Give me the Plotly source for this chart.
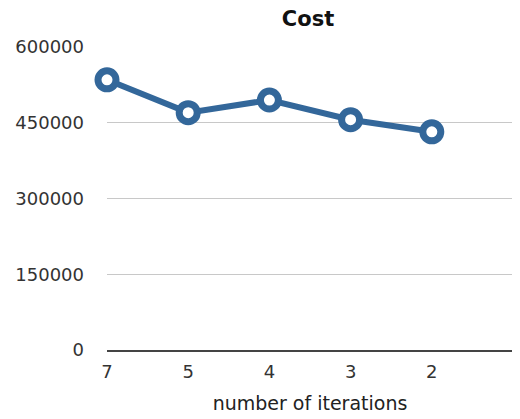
import plotly.graph_objects as go

categories = ["7", "5", "4", "3", "2"]
cost = [535000, 470000, 495000, 456000, 432000]
y_ticks = [0, 150000, 300000, 450000, 600000]

FONT = "DejaVu Sans, Liberation Sans, Arial, sans-serif"
BLUE = "#33679a"

fig = go.Figure()
fig.add_trace(go.Scatter(
    x=list(range(len(categories))), y=cost, mode="lines+markers",
    line=dict(color=BLUE, width=6),
    marker=dict(size=18, color="white", line=dict(color=BLUE, width=7)),
    cliponaxis=False, showlegend=False,
))
# page body has an 8px margin, so the figure spans 8..520 x 8..419
fig.update_layout(
    width=512, height=411,
    margin=dict(l=97, r=7, t=39, b=69),
    paper_bgcolor="white", plot_bgcolor="white",
    font=dict(family=FONT, size=18, color="#333333"),
    title=dict(text="<b>Cost</b>", x=300/512, xanchor="center", y=1-11/411, yanchor="middle",
               font=dict(family=FONT, size=21, color="#111111")),
    xaxis=dict(
        range=[0, 5], tickmode="array", tickvals=list(range(len(categories))),
        ticktext=categories, showgrid=False, zeroline=False,
        showline=True, linecolor="#444444", linewidth=2,
        ticks="", ticklabelstandoff=4,
        title=dict(text="number of iterations", standoff=16, font=dict(family=FONT, size=19, color="#222222")),
    ),
    yaxis=dict(
        range=[0, 600000], tickvals=y_ticks, ticktext=[str(v) for v in y_ticks],
        showgrid=True, gridcolor="#c8c8c8", gridwidth=1, zeroline=False,
        showline=False, ticks="", ticklabelstandoff=22,
    ),
)
fig.write_html("out.html")
